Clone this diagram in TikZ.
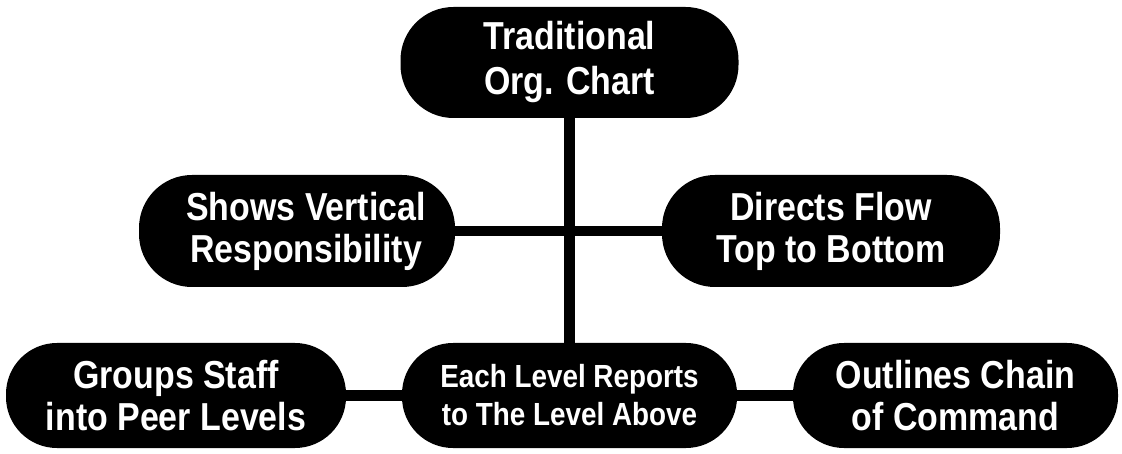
\documentclass[tikz,border=0pt]{standalone}
\usepackage{fontspec}
\setmainfont{Liberation Sans}
\newfontfamily\condfont[FakeStretch=0.87]{Liberation Sans}
\usetikzlibrary{backgrounds}
\begin{document}
\begin{tikzpicture}[x=1pt,y=-1pt,
  pill/.style={fill=black, text=white, rounded corners=53pt, inner sep=0pt,
    align=center, font=\condfont\bfseries\fontsize{39}{42}\selectfont},
  small/.style={font=\condfont\bfseries\fontsize{32}{38}\selectfont},
  link/.style={line width=10.5pt, draw=black}]
\useasboundingbox (0,0) rectangle (1122,454);
\node[pill, minimum width=338pt, minimum height=111pt, font=\condfont\bfseries\fontsize{39}{45}\selectfont] (top) at (569.5,62.5) {Traditional\\Org. Chart};
\node[pill, minimum width=316pt, minimum height=112pt] (ml) at (297,231) {\hspace*{18pt}Shows Vertical\\\hspace*{18pt}Responsibility};
\node[pill, minimum width=338pt, minimum height=112pt] (mr) at (831,231) {Directs Flow\\Top to Bottom};
\node[pill, minimum width=340pt, minimum height=105pt, rounded corners=51pt] (bl) at (176,395.5) {Groups Staff\\into Peer Levels};
\node[pill, small, minimum width=335pt, minimum height=105pt, rounded corners=51pt] (bc) at (569.5,395.5) {Each Level Reports\\to The Level Above};
\node[pill, minimum width=325pt, minimum height=105pt, rounded corners=51pt] (br) at (955.5,395.5) {Outlines Chain\\of Command};
\begin{scope}[on background layer]
\draw[link] (top.center) -- (bc.center);
\draw[link] (ml.center) -- (mr.center);
\draw[link] (bl.center) -- (bc.center);
\draw[link] (bc.center) -- (br.center);
\end{scope}
\end{tikzpicture}
\end{document}
